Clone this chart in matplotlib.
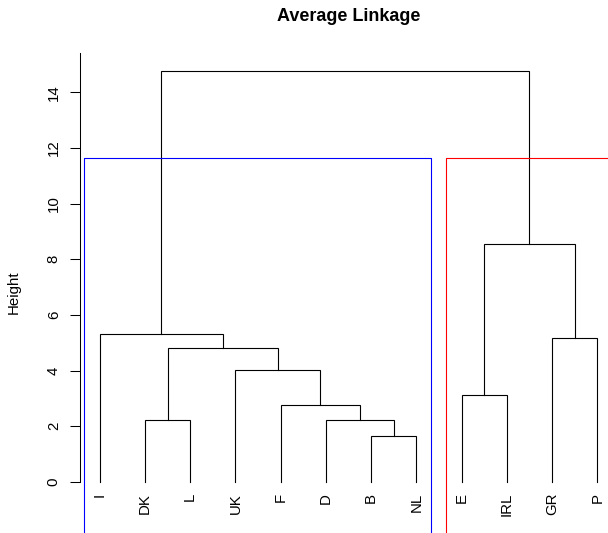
import matplotlib
matplotlib.use('Agg')
import matplotlib.pyplot as plt

# leaf order as drawn, left to right
leaves = ['I', 'DK', 'L', 'UK', 'F', 'D', 'B', 'NL', 'E', 'IRL', 'GR', 'P']
# merges: (left, right, height) - strings are leaves, ints refer to earlier merges (0-based)
merges = [
	('B', 'NL', 1.64),    # 0
	('DK', 'L', 2.22),    # 1
	('D', 0, 2.24),       # 2
	('F', 2, 2.76),       # 3
	('E', 'IRL', 3.12),   # 4
	('UK', 3, 4.03),      # 5
	(1, 5, 4.80),         # 6
	('GR', 'P', 5.17),    # 7
	('I', 6, 5.31),       # 8
	(4, 7, 8.54),         # 9
	(8, 9, 14.77),        # 10
]
# clusters for rect.hclust(k=2)
clusters = [leaves[:8], leaves[8:]]
cluster_colors = ['blue', 'red']
y_ticks = [0, 2, 4, 6, 8, 10, 12, 14]

fig = plt.figure(figsize=(6.08, 5.33), dpi=100)
ax = fig.add_axes([0.13125, -0.0188, 0.8839, 0.9199])
ax.set_xlim(0.56, 12.44)
ax.set_ylim(-2.2, 15.43)

leaf_x = {name: i + 1 for i, name in enumerate(leaves)}
node_x = []
node_h = []

def pos(child):
	if isinstance(child, str):
		return leaf_x[child], 0.0
	return node_x[child], node_h[child]

for a, b, h in merges:
	xa, ha = pos(a)
	xb, hb = pos(b)
	ax.plot([xa, xa, xb, xb], [ha, h, h, hb], color='black', lw=0.8, solid_joinstyle='miter')
	node_x.append((xa + xb) / 2)
	node_h.append(h)

# leaf labels
for name in leaves:
	ax.annotate(name, (leaf_x[name], 0), xytext=(0, -8.0), textcoords='offset points',
		rotation=90, ha='center', va='top', fontsize=10.8, family='Liberation Sans')

# rectangles around the 2 clusters, top halfway between last two merges
rect_top = (node_h[-1] + node_h[-2]) / 2
rect_bot = ax.get_ylim()[0]
for grp, col in zip(clusters, cluster_colors):
	x0 = leaf_x[grp[0]] - 0.34
	x1 = leaf_x[grp[-1]] + 0.33
	ax.plot([x0, x0, x1, x1], [rect_bot, rect_top, rect_top, rect_bot], color=col, lw=0.8)

for s in ['top', 'right', 'bottom']:
	ax.spines[s].set_visible(False)
ax.spines['left'].set_bounds(0, 15.43)
ax.spines['left'].set_linewidth(0.75)
ax.set_xticks([])
ax.set_yticks(y_ticks)
ax.set_yticklabels([str(t) for t in y_ticks], rotation=90, va='center',
	fontsize=10.8, family='Liberation Sans')
ax.tick_params(axis='y', length=7.2, width=0.75, pad=6.5)

fig.text(14 / 608, 1 - 292 / 533, 'Height', rotation=90, ha='center', va='center',
	fontsize=10.8, family='Liberation Sans')
fig.text(348.3 / 608, 1 - 20.7 / 533, 'Average Linkage', ha='center', va='baseline',
	fontsize=13, fontweight='bold', family='Liberation Sans')

fig.savefig('out.png', dpi=100)
